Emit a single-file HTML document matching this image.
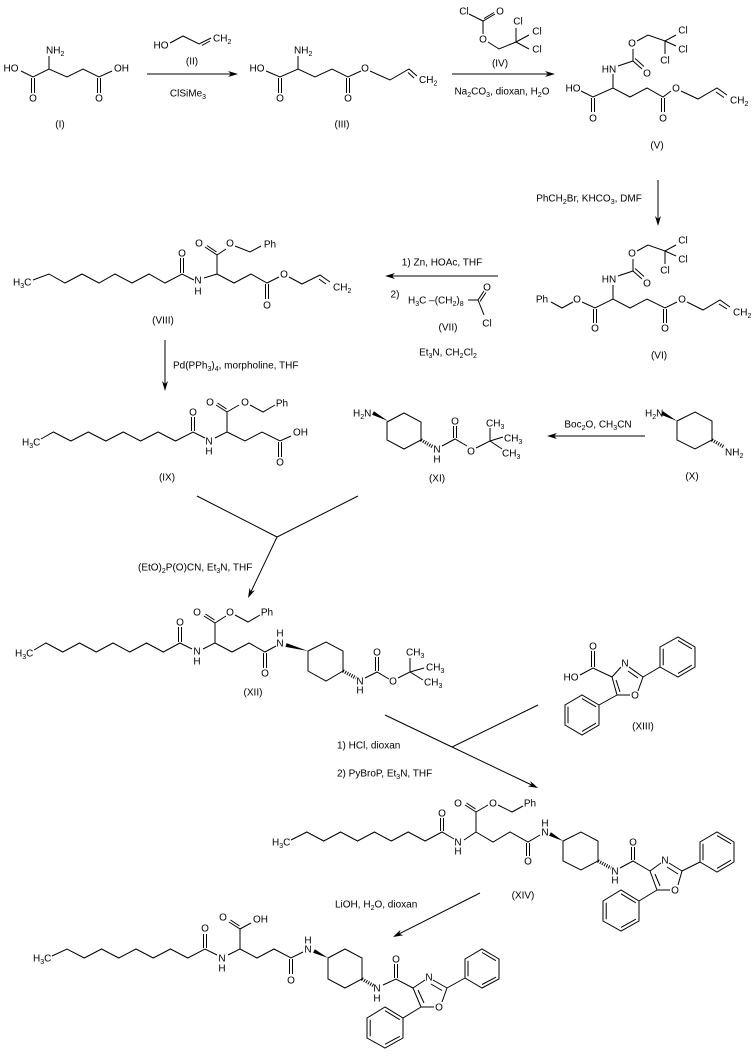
<!DOCTYPE html>
<html><head><meta charset="utf-8">
<style>
html,body{margin:0;padding:0;background:#fff;}
svg{display:block;}
text{font-family:"Liberation Sans",Arial,sans-serif;font-size:10px;fill:#000;}
.m{text-anchor:middle;}
.s{font-size:7px;}
path,line{stroke:#000;stroke-width:1;fill:none;}
polygon{fill:#000;stroke:none;}
.h{stroke-width:3.5;stroke-dasharray:1 1.4;}
</style></head><body>
<svg width="754" height="1058" viewBox="0 0 754 1058" xmlns="http://www.w3.org/2000/svg">
<rect width="754" height="1058" fill="#fff"/>

<!-- (I) -->
<path d="M21,71 L33,77 L49,69 L67,77 L83,69 L99,77 L112,71 M49,69 L49,56 M31.5,78 L31.5,93 M34.5,78 L34.5,93 M97.5,78 L97.5,93 M100.5,78 L100.5,93"/>
<text class="m" x="11" y="71.5">HO</text>
<text x="46" y="53.5">NH<tspan class="s" dy="2.5">2</tspan></text>
<text x="114" y="71.5">OH</text>
<text class="m" x="33" y="101.5">O</text>
<text class="m" x="99" y="101.5">O</text>
<text class="m" x="60" y="127.5">(I)</text>

<!-- reagent II + arrow -->
<text class="m" x="161" y="48.5">HO</text>
<path d="M170,43 L183,36 L199,44 L211,38 M202,45.5 L210,41"/>
<text x="213" y="41.5">CH<tspan class="s" dy="2.5">2</tspan></text>
<text class="m" x="192" y="64.5">(II)</text>
<path d="M147,74 L231,74"/><polygon points="238,74 228,71 231,74 228,77"/>
<text class="m" x="188" y="96.5">ClSiMe<tspan class="s" dy="2.5">3</tspan></text>

<!-- (III) -->
<text class="m" x="257" y="71.5">HO</text>
<path d="M266,71 L280,77 L298,69 L315,77 L332,69 L348,77 L361,71 M298,69 L298,56 M278.5,78 L278.5,93 M281.5,78 L281.5,93 M346.5,78 L346.5,93 M349.5,78 L349.5,93"/>
<text x="294" y="53.5">NH<tspan class="s" dy="2.5">2</tspan></text>
<text class="m" x="280" y="101.5">O</text><text class="m" x="348" y="101.5">O</text>
<text class="m" x="365" y="71.5">O</text>
<path d="M370,71 L390,80 L409,69 L417,76 M408,72.5 L414,78"/>
<text x="419" y="83">CH<tspan class="s" dy="2.5">2</tspan></text>
<text class="m" x="342" y="127.5">(III)</text>

<!-- reagent IV + arrow -->
<text class="m" x="464" y="14.5">Cl</text>
<path d="M469,14 L483,21 L495,14 M484,18.5 L494,12.5 M483,21 L483,34 M488,42 L499,49 L516,42 L516,28 M516,42 L529,35 M516,42 L529,49"/>
<text class="m" x="500" y="14.5">O</text>
<text class="m" x="483" y="42.5">O</text>
<text class="m" x="518" y="24.5">Cl</text>
<text class="m" x="537" y="34.5">Cl</text>
<text class="m" x="537" y="52.5">Cl</text>
<text class="m" x="500" y="66.5">(IV)</text>
<path d="M452,74 L548,74"/><polygon points="555,74 545,71 548,74 545,77"/>
<text class="m" x="502" y="94.5">Na<tspan class="s" dy="2.5">2</tspan><tspan dy="-2.5">CO</tspan><tspan class="s" dy="2.5">3</tspan><tspan dy="-2.5">, dioxan, H</tspan><tspan class="s" dy="2.5">2</tspan><tspan dy="-2.5">O</tspan></text>

<!-- (V) -->
<text class="m" x="573" y="91.5">HO</text>
<path d="M581,91 L593,97 L613,88 L630,97 L647,88 L663,97 L671,91 M591.5,98 L591.5,112 M594.5,98 L594.5,112 M661.5,98 L661.5,112 M664.5,98 L664.5,112 M613,88 L613,74"/>
<text class="m" x="593" y="121.5">O</text><text class="m" x="663" y="121.5">O</text>
<text class="m" x="676" y="91.5">O</text>
<path d="M681,91 L698,99 L717,88 L727,95 M716,92 L724,97.5"/>
<text x="730" y="103.5">CH<tspan class="s" dy="2.5">2</tspan></text>
<text class="m" x="609" y="72.5">HN</text>
<path d="M618,66 L633,61 L642,69 M635,58.5 L644,66.5 M633,61 L633,49 M637,41 L648,35 L665,41 L676,35 M665,41 L676,46 M665,41 L665,54"/>
<text class="m" x="647" y="76.5">O</text>
<text class="m" x="632" y="46.5">O</text>
<text class="m" x="683" y="33.5">Cl</text>
<text class="m" x="683" y="52.5">Cl</text>
<text class="m" x="665" y="63.5">Cl</text>
<text class="m" x="657" y="148.5">(V)</text>

<!-- arrow V -> VI -->
<path d="M658,180 L658,219"/><polygon points="658,226 655,216 658,219 661,216"/>
<text class="m" x="589" y="201.5">PhCH<tspan class="s" dy="2.5">2</tspan><tspan dy="-2.5">Br, KHCO</tspan><tspan class="s" dy="2.5">3</tspan><tspan dy="-2.5">, DMF</tspan></text>

<!-- (VI) -->
<text class="m" x="542" y="302.5">Ph</text>
<path d="M551,302 L562,308 L573,302"/>
<text class="m" x="577" y="302.5">O</text>
<path d="M582,302 L595,308 L613,299 L630,308 L647,299 L665,308 L677,302 M593.5,309 L593.5,323 M596.5,309 L596.5,323 M663.5,309 L663.5,323 M666.5,309 L666.5,323 M613,299 L613,285"/>
<text class="m" x="595" y="331.5">O</text><text class="m" x="665" y="331.5">O</text>
<text class="m" x="682" y="302.5">O</text>
<path d="M687,302 L703,310 L720,300 L730,307 M719,304 L727,309"/>
<text x="733" y="315.5">CH<tspan class="s" dy="2.5">2</tspan></text>
<text class="m" x="609" y="282.5">HN</text>
<path d="M618,276 L633,271 L642,279 M635,268.5 L644,276.5 M633,271 L633,259 M637,251 L648,245 L665,251 L676,245 M665,251 L676,256 M665,251 L665,264"/>
<text class="m" x="647" y="286.5">O</text>
<text class="m" x="632" y="256.5">O</text>
<text class="m" x="683" y="243.5">Cl</text>
<text class="m" x="683" y="262.5">Cl</text>
<text class="m" x="665" y="273.5">Cl</text>
<text class="m" x="659" y="358.5">(VI)</text>

<!-- arrow VI -> VIII -->
<path d="M392,276 L498,276"/><polygon points="385,276 395,273 392,276 395,279"/>
<text class="m" x="442" y="265.5">1) Zn, HOAc, THF</text>
<text class="m" x="395" y="297.5">2)</text>
<text x="408" y="303.5">H<tspan class="s" dy="2.5">3</tspan><tspan dy="-2.5">C –(CH</tspan><tspan class="s" dy="2.5">2</tspan><tspan dy="-2.5">)</tspan><tspan class="s" dy="2.5">8</tspan></text>
<path d="M468,300 L478,300 L484,291 M480,301.5 L486,292.5 M478,300 L484,315"/>
<text class="m" x="487" y="290.5">O</text>
<text class="m" x="487" y="326.5">Cl</text>
<text class="m" x="448" y="330.5">(VII)</text>
<text class="m" x="448" y="355.5">Et<tspan class="s" dy="2.5">3</tspan><tspan dy="-2.5">N, CH</tspan><tspan class="s" dy="2.5">2</tspan><tspan dy="-2.5">Cl</tspan><tspan class="s" dy="2.5">2</tspan></text>

<!-- (VIII) -->
<text x="13" y="285.5">H<tspan class="s" dy="2.5">3</tspan><tspan dy="-2.5">C</tspan></text>
<path d="M33,280 L49,274 L65,283 L82,274 L99,283 L115,274 L132,283 L149,274 L165,283 L182,274 L194,280 M180.5,273 L180.5,258 M183.5,273 L183.5,258"/>
<text class="m" x="182" y="256.5">O</text>
<text class="m" x="198" y="283.5">N</text>
<text class="m" x="198" y="294.5">H</text>
<path d="M204,278 L217,274 L217,255 L205,247 M216.5,252 L207,245.5 M217,255 L226,249 M235,246 L250,252 L261,246 M217,274 L234,283 L251,274 L267,283 L279,277 M265.5,284 L265.5,299 M268.5,284 L268.5,299"/>
<text class="m" x="199" y="246.5">O</text>
<text class="m" x="230" y="246.5">O</text>
<text class="m" x="270" y="247.5">Ph</text>
<text class="m" x="267" y="308.5">O</text>
<text class="m" x="284" y="277.5">O</text>
<path d="M289,277 L302,284 L320,275 L330,282 M319,279 L326,284"/>
<text x="333" y="290.5">CH<tspan class="s" dy="2.5">2</tspan></text>
<text class="m" x="163" y="323.5">(VIII)</text>

<!-- arrow VIII -> IX -->
<path d="M165,340 L165,384"/><polygon points="165,391 162,381 165,384 168,381"/>
<text x="173" y="368.5">Pd(PPh<tspan class="s" dy="2.5">3</tspan><tspan dy="-2.5">)</tspan><tspan class="s" dy="2.5">4</tspan><tspan dy="-2.5">, morpholine, THF</tspan></text>

<!-- (IX) -->
<text x="22" y="445.5">H<tspan class="s" dy="2.5">3</tspan><tspan dy="-2.5">C</tspan></text>
<path d="M41,439 L53.4,432 L70.9,441 L88.3,432 L105.8,441 L123.2,432 L140.6,441 L158.1,432 L175.5,441 L193,432 L205,438 M191.5,431 L191.5,417 M194.5,431 L194.5,417"/>
<text class="m" x="193" y="415.5">O</text>
<text class="m" x="209" y="444.5">N</text>
<text class="m" x="209" y="454.5">H</text>
<path d="M215,438 L227,432 L227,412 L216,405 M226.5,409 L217.5,403 M227,412 L239,405 M250,405 L263,412 L275,405 M227,432 L245,441 L262,432 L280,441 L291,436 M278.5,442 L278.5,457 M281.5,442 L281.5,457"/>
<text class="m" x="210" y="405.5">O</text>
<text class="m" x="245" y="405.5">O</text>
<text class="m" x="282" y="406.5">Ph</text>
<text class="m" x="280" y="465.5">O</text>
<text x="293" y="435.5">OH</text>
<text class="m" x="167" y="480.5">(IX)</text>

<!-- arrow X -> XI -->
<path d="M554,436 L645,436"/><polygon points="547,436 557,433 554,436 557,439"/>
<text class="m" x="598" y="427.5">Boc<tspan class="s" dy="2.5">2</tspan><tspan dy="-2.5">O, CH</tspan><tspan class="s" dy="2.5">3</tspan><tspan dy="-2.5">CN</tspan></text>

<!-- (XI) -->
<text x="353" y="416.5">H<tspan class="s" dy="2.5">2</tspan><tspan dy="-2.5">N</tspan></text>
<polygon points="372.1,414.8 373.9,411.2 388,421"/>
<path d="M387,422 L404,413 L421,422 L421,440 L404,449 L387,440 Z"/>
<line class="h" x1="421" y1="440" x2="433" y2="447"/>
<text class="m" x="437" y="452.5">N</text>
<text class="m" x="437" y="462.5">H</text>
<path d="M442,446 L455,439 L467,446 M453.5,438 L453.5,426 M456.5,438 L456.5,426 M476,448 L490,441 L490,428 M490,441 L503,437 M490,441 L502,449"/>
<text class="m" x="455" y="424.5">O</text>
<text class="m" x="471" y="454.5">O</text>
<text x="486" y="426.5">CH<tspan class="s" dy="2.5">3</tspan></text>
<text x="504" y="441.5">CH<tspan class="s" dy="2.5">3</tspan></text>
<text x="502" y="456.5">CH<tspan class="s" dy="2.5">3</tspan></text>
<text class="m" x="437" y="481.5">(XI)</text>

<!-- (X) -->
<text x="645" y="416.5">H<tspan class="s" dy="2.5">2</tspan><tspan dy="-2.5">N</tspan></text>
<polygon points="661.1,414.8 662.9,411.2 677,421"/>
<path d="M677,421 L695,412 L712,421 L712,440 L695,449 L677,440 Z"/>
<line class="h" x1="712" y1="440" x2="724" y2="447"/>
<text x="725" y="455.5">NH<tspan class="s" dy="2.5">2</tspan></text>
<text class="m" x="692" y="479.5">(X)</text>

<!-- convergent arrow to XII -->
<path d="M197,496 L277,537 M358,496 L277,537 L251,591.7"/>
<polygon points="248,598 249.6,587.7 251,591.7 255,590.3"/>
<text x="138" y="570.5">(EtO)<tspan class="s" dy="2.5">2</tspan><tspan dy="-2.5">P(O)CN, Et</tspan><tspan class="s" dy="2.5">3</tspan><tspan dy="-2.5">N, THF</tspan></text>

<!-- (XII) -->
<text x="15" y="656.5">H<tspan class="s" dy="2.5">3</tspan><tspan dy="-2.5">C</tspan></text>
<path d="M34,650 L46,643 L62.75,652 L79.5,643 L96.25,652 L113,643 L129.75,652 L146.5,643 L163.25,652 L180,643 L192,649 M178.5,642 L178.5,627 M181.5,642 L181.5,627"/>
<text class="m" x="180" y="625.5">O</text>
<text class="m" x="197" y="654.5">N</text>
<text class="m" x="197" y="664.5">H</text>
<path d="M203,649 L215,643 L215,623 L204,616 M214.5,620 L205.5,614 M215,623 L226,616 M235,615 L248,622 L260,615 M215,643 L232,652 L249,643 L265,652 L276,646 M263.5,653 L263.5,668 M266.5,653 L266.5,668"/>
<text class="m" x="197" y="615.5">O</text>
<text class="m" x="230" y="615.5">O</text>
<text class="m" x="267" y="615.5">Ph</text>
<text class="m" x="265" y="676.5">O</text>
<text class="m" x="280" y="646.5">N</text>
<text class="m" x="280" y="636.5">H</text>
<polygon points="285.5,646.9 286.5,643.1 308,651"/>
<path d="M308,651 L326,642 L343,651 L343,671 L326,681 L308,671 Z"/>
<line class="h" x1="343" y1="671" x2="356" y2="678"/>
<text class="m" x="360" y="684.5">N</text>
<text class="m" x="360" y="693.5">H</text>
<path d="M365,678 L377,672 L389,679 M375.5,671 L375.5,657 M378.5,671 L378.5,657 M398,678 L410,672 L410,658 M410,672 L424,668 M410,672 L423,680"/>
<text class="m" x="377" y="655.5">O</text>
<text class="m" x="393" y="684.5">O</text>
<text x="406" y="655.5">CH<tspan class="s" dy="2.5">3</tspan></text>
<text x="426" y="670.5">CH<tspan class="s" dy="2.5">3</tspan></text>
<text x="424" y="685.5">CH<tspan class="s" dy="2.5">3</tspan></text>
<text class="m" x="253" y="695.5">(XII)</text>

<!-- (XIII) -->
<text class="m" x="571" y="680.5">HO</text>
<path d="M580,675 L593,668 L612,677 M591.5,667 L591.5,651 M594.5,667 L594.5,651 M612,677 L621,667 M629,667 L643,677 M628,671 L638,678 M643,677 L638,691 M630,695 L617,695 L612,677 M620,692 L616,680 M643,677 L660,667 M617,695 L599,705"/>
<text class="m" x="593" y="649.5">O</text>
<text class="m" x="625" y="666.5">N</text>
<text class="m" x="635" y="698.5">O</text>
<path d="M660,667 L660,647 L678,637 L695,647 L695,667 L678,677 Z M663.2,665.2 L663.2,648.8 M678,640.6 L691.8,648.8 M691.8,665.2 L678,673.4"/>
<path d="M599,705 L582,695 L565,705 L565,725 L582,735 L599,725 Z M596,706.8 L582,698.6 M568,706.8 L568,723.2 M582,731.4 L596,723.2"/>
<text class="m" x="643" y="729.5">(XIII)</text>

<!-- convergent arrow to XIV -->
<path d="M385,715 L452,747 M538,705 L452,747 L531.7,785"/>
<polygon points="538,788 527.7,786.4 531.7,785 530.3,781"/>
<text x="337" y="748.5">1) HCl, dioxan</text>
<text x="337" y="776.5">2) PyBroP, Et<tspan class="s" dy="2.5">3</tspan><tspan dy="-2.5">N, THF</tspan></text>

<!-- (XIV) -->
<text x="272" y="845.5">H<tspan class="s" dy="2.5">3</tspan><tspan dy="-2.5">C</tspan></text>
<path d="M291,840 L306.8,832 L323.7,841 L340.6,832 L357.5,841 L374.4,832 L391.3,841 L408.2,832 L425.1,841 L442,832 L454,839 M440.5,831 L440.5,818 M443.5,831 L443.5,818"/>
<text class="m" x="442" y="816.5">O</text>
<text class="m" x="458" y="845.5">N</text>
<text class="m" x="458" y="854.5">H</text>
<path d="M464,840 L476,832 L476,812 L465,805 M475.5,809 L466.5,803 M476,812 L488,805 M498,805 L512,812 L523,806 M476,832 L493,842 L510,832 L528,842 L540,835 M526.5,843 L526.5,856 M529.5,843 L529.5,856"/>
<text class="m" x="458" y="806.5">O</text>
<text class="m" x="493" y="806.5">O</text>
<text class="m" x="530" y="806.5">Ph</text>
<text class="m" x="528" y="864.5">O</text>
<text class="m" x="545" y="835.5">N</text>
<text class="m" x="545" y="826.5">H</text>
<polygon points="549.1,835.8 550.9,832.2 563,841"/>
<path d="M563,841 L581,832 L598,841 L598,861 L581,870 L563,861 Z"/>
<line class="h" x1="598" y1="861" x2="611" y2="868"/>
<text class="m" x="615" y="874.5">N</text>
<text class="m" x="615" y="883.5">H</text>
<path d="M620,868 L633,861 L650,871 M631.5,860 L631.5,847 M634.5,860 L634.5,847 M650,871 L661,863 M669,863 L682,871 M667,867 L678,874 M682,871 L678,885 M670,890 L657,890 L650,871 M660,886 L655,874 M682,871 L700,862 M657,890 L639,901"/>
<text class="m" x="633" y="845.5">O</text>
<text class="m" x="665" y="863.5">N</text>
<text class="m" x="675" y="893.5">O</text>
<path d="M700,862 L700,842 L717,832 L734,842 L734,862 L717,872 Z M703,860.2 L703,843.8 M717,835.6 L731,843.8 M731,860.2 L717,868.4"/>
<path d="M639,901 L621,890 L603,901 L603,921 L621,931 L639,921 Z M635.8,902.8 L621,893.8 M606.2,902.8 L606.2,919.2 M621,927.4 L635.8,919.2"/>
<text class="m" x="523" y="898.5">(XIV)</text>

<!-- arrow XIV -> final -->
<path d="M480,893 L399.2,933.8"/><polygon points="393,937 400.6,929.8 399.2,933.8 403.3,935.2"/>
<text x="335" y="907.5">LiOH, H<tspan class="s" dy="2.5">2</tspan><tspan dy="-2.5">O, dioxan</tspan></text>

<!-- final product -->
<text x="33" y="961.5">H<tspan class="s" dy="2.5">3</tspan><tspan dy="-2.5">C</tspan></text>
<path d="M52,956 L67,949 L84.25,958 L101.5,949 L118.75,958 L136,949 L153.25,958 L170.5,949 L187.75,958 L205,949 L217,955 M203.5,948 L203.5,934 M206.5,948 L206.5,934"/>
<text class="m" x="205" y="931.5">O</text>
<text class="m" x="222" y="961.5">N</text>
<text class="m" x="222" y="971.5">H</text>
<path d="M228,955 L240,949 L240,929 L229,922 M239.5,926 L230.5,920 M240,929 L251,923 M240,949 L257,958 L274,949 L291,958 L303,952 M289.5,959 L289.5,974 M292.5,959 L292.5,974"/>
<text class="m" x="223" y="920.5">O</text>
<text x="253" y="922.5">OH</text>
<text class="m" x="291" y="983.5">O</text>
<text class="m" x="308" y="952.5">N</text>
<text class="m" x="308" y="943.5">H</text>
<polygon points="313.1,952.8 314.9,949.2 328,958"/>
<path d="M328,958 L345,949 L362,958 L362,979 L345,988 L328,979 Z"/>
<line class="h" x1="362" y1="979" x2="374" y2="986"/>
<text class="m" x="377" y="991.5">N</text>
<text class="m" x="377" y="1001.5">H</text>
<path d="M383,985 L396,979 L413,988 M394.5,978 L394.5,964 M397.5,978 L397.5,964 M413,988 L425,980 M433,980 L447,988 M431,984 L442,990.5 M447,988 L442,1002 M434,1007 L421,1007 L413,988 M424,1003 L418,990 M447,988 L465,978 M421,1007 L403,1018"/>
<text class="m" x="396" y="962.5">O</text>
<text class="m" x="429" y="980.5">N</text>
<text class="m" x="439" y="1010.5">O</text>
<path d="M465,978 L465,959 L482,949 L499,959 L499,979 L482,988 Z M468,976.2 L468,960.7 M482,952.5 L496,960.7 M496,977.2 L482,984.5"/>
<path d="M403,1018 L385,1007 L367,1018 L367,1038 L385,1048 L403,1038 Z M399.8,1019.7 L385,1010.7 M370.2,1019.7 L370.2,1036.3 M385,1044.3 L399.8,1036.3"/>
</svg>
</body></html>
